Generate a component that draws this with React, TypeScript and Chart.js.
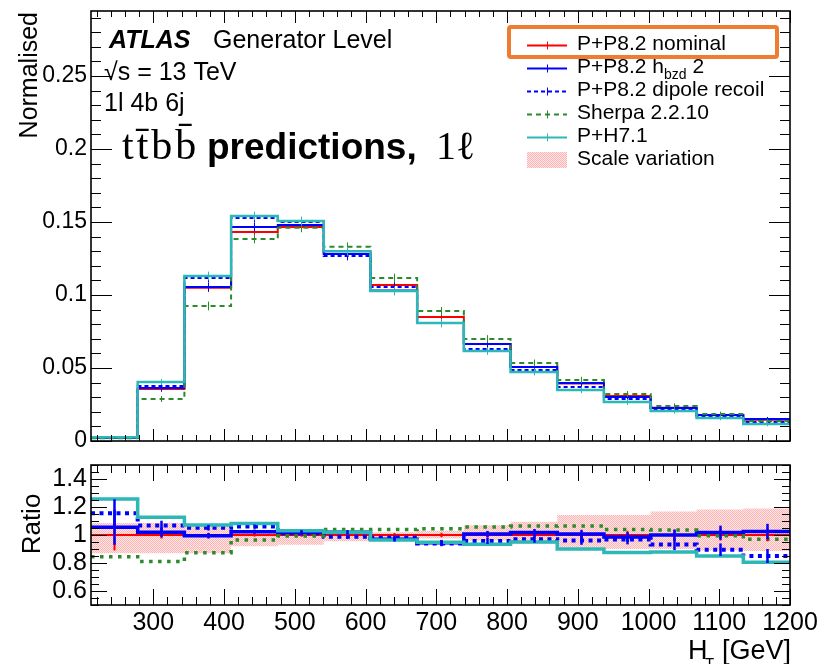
import React, { useEffect, useRef } from 'react';
import { Chart, registerables } from 'chart.js';

Chart.register(...registerables);

// ---------------- data ----------------
const binEdges = [212, 278, 344, 410, 476, 541, 607, 673, 739, 805, 871, 937, 1003, 1068, 1134, 1200];
const xTickValues = [300, 400, 500, 600, 700, 800, 900, 1000, 1100, 1200];
const xTickLabels = ['300', '400', '500', '600', '700', '800', '900', '1000', '1100', '1200'];
const mainYTickValues = [0, 0.05, 0.1, 0.15, 0.2, 0.25];
const mainYTickLabels = ['0', '0.05', '0.1', '0.15', '0.2', '0.25'];
const ratioYTickValues = [0.6, 0.8, 1, 1.2, 1.4];
const ratioYTickLabels = ['0.6', '0.8', '1', '1.2', '1.4'];

const seriesLabels = ['P+P8.2 nominal', 'P+P8.2 h', 'P+P8.2 dipole recoil', 'Sherpa 2.2.10', 'P+H7.1', 'Scale variation'];

// normalised distributions (upper panel)
const nominalMain = [0.0021, 0.0356, 0.1050, 0.1432, 0.1466, 0.1280, 0.1068, 0.0850, 0.0664, 0.0507, 0.0394, 0.0308, 0.0228, 0.0178, 0.0146];
const hbzdMain = [0.0022, 0.0363, 0.1055, 0.1466, 0.1480, 0.1280, 0.1030, 0.0808, 0.0664, 0.0507, 0.0397, 0.0301, 0.0226, 0.0178, 0.0150];
const dipoleMain = [0.0024, 0.0377, 0.1116, 0.1527, 0.1500, 0.1267, 0.1055, 0.0808, 0.0630, 0.0486, 0.0370, 0.0288, 0.0219, 0.0164, 0.0130];
const sherpaMain = [0.0018, 0.0288, 0.0925, 0.1384, 0.1460, 0.1330, 0.1116, 0.0890, 0.0699, 0.0534, 0.0418, 0.0322, 0.0240, 0.0185, 0.0137];
const herwigMain = [0.0026, 0.0404, 0.1130, 0.1541, 0.1507, 0.1300, 0.1027, 0.0808, 0.0616, 0.0473, 0.0349, 0.0267, 0.0205, 0.0158, 0.0116];
const mainStatErr = [0.0004, 0.002, 0.003, 0.003, 0.003, 0.003, 0.003, 0.0028, 0.0026, 0.0024, 0.0022, 0.002, 0.0018, 0.0016, 0.0015];

// ratios to nominal (lower panel)
const nominalRatio = [1, 1, 1, 1, 1, 1, 1, 1, 1, 1, 1, 1, 1, 1, 1];
const hbzdRatio = [1.055, 1.019, 0.995, 1.024, 1.02, 1.02, 0.97, 0.945, 1.007, 1.018, 1.007, 0.985, 1.0, 1.017, 1.025];
const dipoleRatio = [1.155, 1.067, 1.052, 1.06, 1.012, 0.988, 0.98, 0.94, 0.958, 0.97, 0.96, 0.968, 0.932, 0.895, 0.85];
const sherpaRatio = [0.845, 0.81, 0.874, 0.964, 0.993, 1.04, 1.04, 1.045, 1.058, 1.064, 1.065, 1.04, 1.036, 0.995, 0.97];
const herwigRatio = [1.257, 1.126, 1.071, 1.083, 1.031, 1.02, 0.964, 0.948, 0.934, 0.95, 0.9, 0.875, 0.878, 0.85, 0.805];
const scaleUp = [1.085, 1.085, 1.07, 1.025, 1.025, 1.03, 1.02, 1.03, 1.07, 1.095, 1.143, 1.143, 1.167, 1.183, 1.19];
const scaleDown = [0.87, 0.87, 0.87, 0.92, 0.93, 0.955, 0.975, 0.975, 0.96, 0.94, 0.91, 0.9, 0.9, 0.89, 0.885];
const nominalRatioErr = [0.11, 0.025, 0.015, 0.012, 0.012, 0.012, 0.014, 0.016, 0.02, 0.022, 0.026, 0.03, 0.035, 0.04, 0.045];
const hbzdRatioErr = [0.125, 0.035, 0.02, 0.015, 0.015, 0.015, 0.017, 0.02, 0.022, 0.025, 0.03, 0.035, 0.04, 0.05, 0.055];
const dipoleRatioErr = [0.1, 0.035, 0.02, 0.015, 0.015, 0.015, 0.017, 0.02, 0.022, 0.025, 0.03, 0.035, 0.04, 0.045, 0.05];

// ---------------- styling ----------------
const RED = '#ff0000';
const BLUE = '#0000ff';
const GREEN = '#2b8a2b';
const CYAN = '#2db7b7';
const SANS = '"Liberation Sans", Arial, Helvetica, sans-serif';
const SERIF = '"Liberation Serif", "DejaVu Serif", "Times New Roman", serif';

function histPoints(vals: number[]) {
  const pts: { x: number; y: number }[] = [];
  vals.forEach((v, i) => {
    pts.push({ x: binEdges[i], y: v });
    pts.push({ x: binEdges[i + 1], y: v });
  });
  return pts;
}

function makeBandPattern(): any {
  const c = document.createElement('canvas');
  c.width = 2;
  c.height = 2;
  const g = c.getContext('2d');
  if (!g) return 'rgba(255,170,170,0.45)';
  g.fillStyle = 'rgba(255,130,130,0.6)';
  g.fillRect(0, 0, 1, 1);
  g.fillRect(1, 1, 1, 1);
  g.fillStyle = 'rgba(255,215,215,0.6)';
  g.fillRect(1, 0, 1, 1);
  g.fillRect(0, 1, 1, 1);
  return g.createPattern(c, 'repeat') || 'rgba(255,170,170,0.45)';
}

const errPlugin = {
  id: 'histErrors',
  afterDatasetsDraw(chart: any) {
    const { ctx, chartArea: a } = chart;
    const xs = chart.scales.x;
    const ys = chart.scales.y;
    ctx.save();
    ctx.beginPath();
    ctx.rect(a.left, a.top, a.right - a.left, a.bottom - a.top);
    ctx.clip();
    const sets = [...chart.data.datasets].reverse();
    sets.forEach((ds: any) => {
      if (!ds.errs || !ds.vals) return;
      ctx.strokeStyle = ds.borderColor;
      ctx.lineWidth = ds.errWidth || 1;
      ctx.setLineDash([]);
      ds.vals.forEach((v: number, i: number) => {
        const e = ds.errs[i];
        if (!e) return;
        const cx = Math.round(xs.getPixelForValue((binEdges[i] + binEdges[i + 1]) / 2)) + 0.5;
        ctx.beginPath();
        ctx.moveTo(cx, ys.getPixelForValue(v - e));
        ctx.lineTo(cx, ys.getPixelForValue(v + e));
        ctx.stroke();
      });
    });
    ctx.restore();
  },
};

function drawFrame(chart: any, cfg: any) {
  const { ctx, chartArea: a } = chart;
  const xs = chart.scales.x;
  const ys = chart.scales.y;
  ctx.save();
  ctx.strokeStyle = '#000';
  ctx.lineWidth = 1;
  ctx.setLineDash([]);
  const seg = (x1: number, y1: number, x2: number, y2: number) => {
    ctx.beginPath();
    ctx.moveTo(x1, y1);
    ctx.lineTo(x2, y2);
    ctx.stroke();
  };
  for (let k = 11; k <= 60; k++) {
    const v = k * 20;
    if (v < xs.min || v > xs.max) continue;
    const px = Math.round(xs.getPixelForValue(v)) + 0.5;
    const major = k % 5 === 0;
    seg(px, a.bottom, px, a.bottom - (major ? cfg.xMaj : cfg.xMin));
    seg(px, a.top, px, a.top + (major ? cfg.xMaj : cfg.xMin));
  }
  for (let i = 0; i <= cfg.yCount; i++) {
    const v = cfg.yStart + i * cfg.yStep;
    if (v < ys.min - 1e-9 || v > ys.max + 1e-9) continue;
    const py = Math.round(ys.getPixelForValue(v)) + 0.5;
    const major = (i - cfg.yMajorOffset) % cfg.yMajorEvery === 0;
    seg(a.left, py, a.left + (major ? cfg.yMaj : cfg.yMin), py);
    seg(a.right, py, a.right - (major ? cfg.yMaj : cfg.yMin), py);
  }
  ctx.lineWidth = 1.6;
  ctx.strokeRect(a.left, a.top, a.right - a.left, a.bottom - a.top);
  ctx.restore();
}

const topDecor = {
  id: 'topDecor',
  afterDraw(chart: any) {
    drawFrame(chart, { xMaj: 12, xMin: 6, yMaj: 21, yMin: 10, yStart: 0, yStep: 0.01, yCount: 29, yMajorOffset: 0, yMajorEvery: 5 });
    const ctx = chart.ctx as CanvasRenderingContext2D;
    ctx.save();
    ctx.fillStyle = '#000';
    ctx.textAlign = 'left';
    ctx.textBaseline = 'alphabetic';
    ctx.font = `italic bold 25px ${SANS}`;
    ctx.fillText('ATLAS', 109, 48);
    ctx.font = `25px ${SANS}`;
    ctx.fillText('Generator Level', 213, 48);
    ctx.fillText('\u221As = 13 TeV', 104, 80);
    ctx.fillText('1l 4b 6j', 104, 111);
    ctx.font = `42px ${SERIF}`;
    (ctx as any).letterSpacing = '3px';
    ctx.fillText('tt\u0304bb\u0304', 122, 159);
    (ctx as any).letterSpacing = '0px';
    ctx.font = `bold 37px ${SANS}`;
    ctx.fillText('predictions,', 207, 159);
    ctx.font = `40px ${SERIF}`;
    ctx.fillText('1\u2113', 436, 159);

    // y-axis title
    ctx.save();
    ctx.translate(37, 12);
    ctx.rotate(-Math.PI / 2);
    ctx.textAlign = 'right';
    ctx.font = `25px ${SANS}`;
    ctx.fillText('Normalised', 0, 0);
    ctx.restore();

    // legend
    const rows = [
      { color: RED, dash: [] as number[] },
      { color: BLUE, dash: [] as number[] },
      { color: BLUE, dash: [4, 3] },
      { color: GREEN, dash: [5, 4] },
      { color: CYAN, dash: [] as number[] },
    ];
    const rowY = (i: number) => 45 + i * 23;
    rows.forEach((r, i) => {
      const y = rowY(i) + 0.5;
      ctx.strokeStyle = r.color;
      ctx.lineWidth = 2;
      ctx.setLineDash(r.dash);
      ctx.beginPath();
      ctx.moveTo(527, y);
      ctx.lineTo(567, y);
      ctx.stroke();
      ctx.setLineDash([]);
      ctx.lineWidth = 1;
      ctx.beginPath();
      ctx.moveTo(547.5, y - 4);
      ctx.lineTo(547.5, y + 4);
      ctx.stroke();
    });
    ctx.fillStyle = chart.$bandPattern || 'rgba(255,170,170,0.45)';
    ctx.fillRect(527, rowY(5) - 8, 40, 16);

    ctx.fillStyle = '#000';
    ctx.textBaseline = 'middle';
    ctx.font = `21px ${SANS}`;
    ctx.fillText(seriesLabels[0], 577, rowY(0) - 1);
    ctx.fillText(seriesLabels[1], 577, rowY(1) - 1);
    const w = ctx.measureText(seriesLabels[1]).width;
    ctx.font = `14px ${SANS}`;
    ctx.fillText('bzd', 577 + w, rowY(1) + 7);
    const w2 = ctx.measureText('bzd').width;
    ctx.font = `21px ${SANS}`;
    ctx.fillText(' 2', 577 + w + w2, rowY(1) - 1);
    ctx.fillText(seriesLabels[2], 577, rowY(2) - 1);
    ctx.fillText(seriesLabels[3], 577, rowY(3) - 1);
    ctx.fillText(seriesLabels[4], 577, rowY(4) - 1);
    ctx.fillText(seriesLabels[5], 577, rowY(5) - 1);

    // highlight box
    ctx.strokeStyle = '#ED7D31';
    ctx.lineWidth = 4;
    ctx.beginPath();
    (ctx as any).roundRect ? (ctx as any).roundRect(509, 27, 268, 30, 2) : ctx.rect(509, 27, 268, 30);
    ctx.stroke();
    ctx.restore();
  },
};

const botDecor = {
  id: 'botDecor',
  afterDraw(chart: any) {
    drawFrame(chart, { xMaj: 16, xMin: 8, yMaj: 16, yMin: 8, yStart: 0.5, yStep: 0.05, yCount: 20, yMajorOffset: 2, yMajorEvery: 4 });
    const ctx = chart.ctx as CanvasRenderingContext2D;
    ctx.save();
    ctx.fillStyle = '#000';
    ctx.textBaseline = 'alphabetic';
    ctx.save();
    ctx.translate(40, 70);
    ctx.rotate(-Math.PI / 2);
    ctx.textAlign = 'center';
    ctx.font = `26px ${SANS}`;
    ctx.fillText('Ratio', 0, 0);
    ctx.restore();
    ctx.textAlign = 'left';
    ctx.font = `27px ${SANS}`;
    ctx.fillText('H', 688, 205);
    ctx.font = `15px ${SANS}`;
    ctx.fillText('T', 705, 214);
    ctx.font = `27px ${SANS}`;
    ctx.fillText('[GeV]', 722, 205);
    ctx.restore();
  },
};

function zeroPad(s: any) {
  s.paddingLeft = 0;
  s.paddingRight = 0;
  s.paddingTop = 0;
  s.paddingBottom = 0;
}

function lineSet(label: string, vals: number[], errs: number[] | null, color: string, width: number, dash: number[], order: number, errWidth = 1) {
  return {
    label,
    data: histPoints(vals),
    vals,
    errs,
    errWidth,
    borderColor: color,
    backgroundColor: color,
    borderWidth: width,
    borderDash: dash,
    pointRadius: 0,
    fill: false,
    tension: 0,
    order,
  } as any;
}

export default function App() {
  const topRef = useRef<HTMLCanvasElement>(null);
  const botRef = useRef<HTMLCanvasElement>(null);

  useEffect(() => {
    const pattern = makeBandPattern();
    const grid = { display: false, drawTicks: false, tickLength: 0 };

    const top = new Chart(topRef.current as HTMLCanvasElement, {
      type: 'line',
      data: {
        datasets: [
          lineSet(seriesLabels[4], herwigMain, mainStatErr, CYAN, 2.5, [], 0),
          lineSet(seriesLabels[3], sherpaMain, mainStatErr, GREEN, 2, [5, 4], 1),
          lineSet(seriesLabels[2], dipoleMain, mainStatErr, BLUE, 2, [4, 3], 2),
          lineSet('P+P8.2 hbzd 2', hbzdMain, mainStatErr, BLUE, 2, [], 3),
          lineSet(seriesLabels[0], nominalMain, mainStatErr, RED, 2, [], 4),
        ],
      },
      options: {
        responsive: false,
        animation: false,
        layout: { padding: { left: 0, top: 11, right: 31, bottom: 0 } },
        plugins: { legend: { display: false }, tooltip: { enabled: false } },
        scales: {
          x: {
            type: 'linear',
            min: 212,
            max: 1200,
            grid,
            border: { display: false },
            ticks: { display: false },
            afterFit: (s: any) => {
              s.height = 13;
              zeroPad(s);
            },
          },
          y: {
            type: 'linear',
            min: 0,
            max: 0.2945,
            grid,
            border: { display: false },
            ticks: {
              autoSkip: false,
              padding: 4,
              color: '#000',
              font: { family: 'Liberation Sans', size: 23 },
              callback: (_v: any, i: number) => mainYTickLabels[i],
            },
            afterBuildTicks: (s: any) => {
              s.ticks = mainYTickValues.map((v) => ({ value: v }));
            },
            afterFit: (s: any) => {
              s.width = 91;
              zeroPad(s);
            },
          },
        },
      } as any,
      plugins: [errPlugin, topDecor],
    });
    (top as any).$bandPattern = pattern;
    top.draw();

    const bot = new Chart(botRef.current as HTMLCanvasElement, {
      type: 'line',
      data: {
        datasets: [
          lineSet(seriesLabels[4], herwigRatio, null, CYAN, 3.5, [], 0),
          lineSet(seriesLabels[3], sherpaRatio, null, GREEN, 3.5, [3.5, 5.5], 1),
          lineSet(seriesLabels[2], dipoleRatio, dipoleRatioErr, BLUE, 4, [4, 4.5], 2, 2.5),
          lineSet('P+P8.2 hbzd 2', hbzdRatio, hbzdRatioErr, BLUE, 3.5, [], 3, 2.5),
          lineSet(seriesLabels[0], nominalRatio, nominalRatioErr, RED, 2, [], 4, 2),
          {
            label: seriesLabels[5] + ' up',
            data: histPoints(scaleUp),
            borderWidth: 0,
            borderColor: 'rgba(0,0,0,0)',
            backgroundColor: pattern,
            pointRadius: 0,
            fill: '+1',
            order: 5,
          } as any,
          {
            label: seriesLabels[5] + ' down',
            data: histPoints(scaleDown),
            borderWidth: 0,
            borderColor: 'rgba(0,0,0,0)',
            backgroundColor: 'rgba(0,0,0,0)',
            pointRadius: 0,
            fill: false,
            order: 6,
          } as any,
        ],
      },
      options: {
        responsive: false,
        animation: false,
        layout: { padding: { left: 0, top: 11, right: 31, bottom: 0 } },
        plugins: { legend: { display: false }, tooltip: { enabled: false } },
        scales: {
          x: {
            type: 'linear',
            min: 212,
            max: 1200,
            grid,
            border: { display: false },
            ticks: {
              autoSkip: false,
              maxRotation: 0,
              padding: 3,
              color: '#000',
              font: { family: 'Liberation Sans', size: 25 },
              callback: (_v: any, i: number) => xTickLabels[i],
            },
            afterBuildTicks: (s: any) => {
              s.ticks = xTickValues.map((v) => ({ value: v }));
            },
            afterFit: (s: any) => {
              s.height = 59;
              zeroPad(s);
            },
          },
          y: {
            type: 'linear',
            min: 0.5,
            max: 1.5,
            grid,
            border: { display: false },
            ticks: {
              autoSkip: false,
              padding: 4,
              color: '#000',
              font: { family: 'Liberation Sans', size: 25 },
              callback: (_v: any, i: number) => ratioYTickLabels[i],
            },
            afterBuildTicks: (s: any) => {
              s.ticks = ratioYTickValues.map((v) => ({ value: v }));
            },
            afterFit: (s: any) => {
              s.width = 91;
              zeroPad(s);
            },
          },
        },
      } as any,
      plugins: [errPlugin, botDecor],
    });

    return () => {
      top.destroy();
      bot.destroy();
    };
  }, []);

  return (
    <div style={{ position: 'absolute', left: 0, top: 0, width: 821, height: 664, background: '#ffffff', overflow: 'hidden' }}>
      <canvas ref={topRef} width={821} height={454} style={{ position: 'absolute', left: 0, top: 0 }} />
      <canvas ref={botRef} width={821} height={210} style={{ position: 'absolute', left: 0, top: 454 }} />
    </div>
  );
}
